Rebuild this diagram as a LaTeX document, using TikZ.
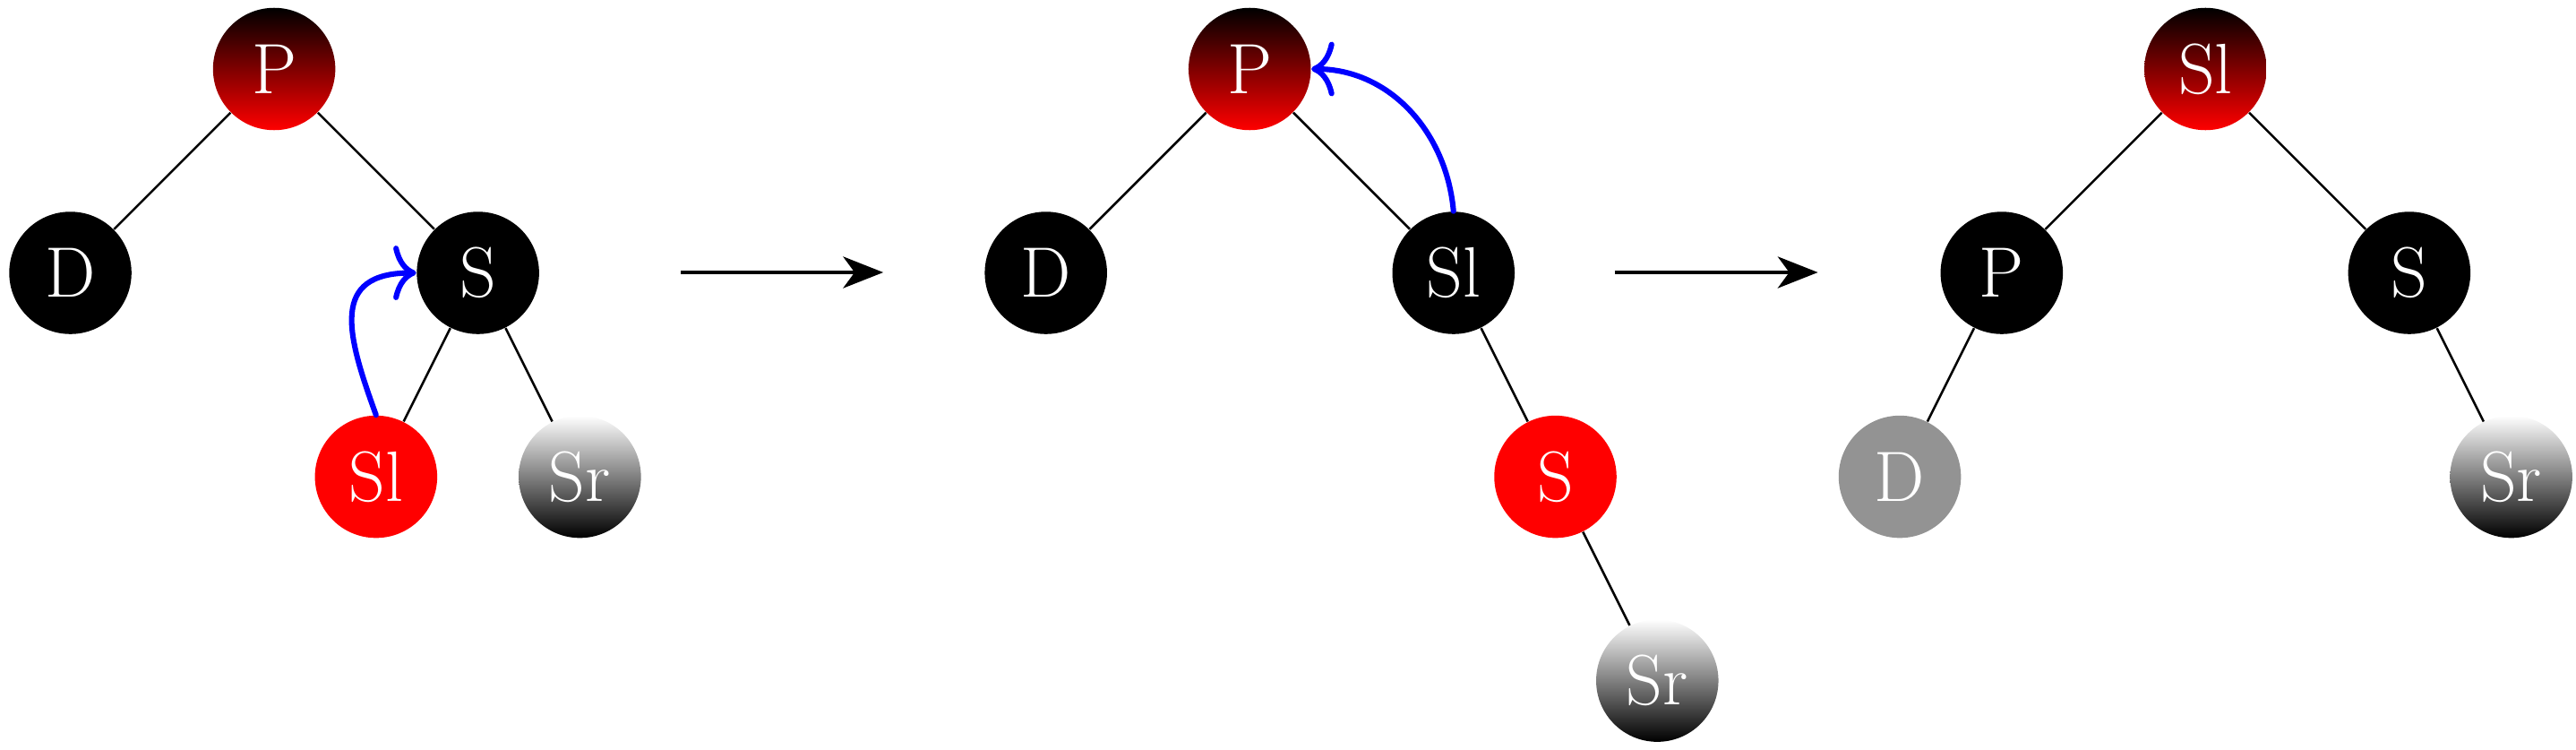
\documentclass[tikz,border=0pt]{standalone}
\usepackage{tikz}
\usetikzlibrary{arrows.meta,positioning,calc}

\begin{document}
\begin{tikzpicture}[
    rbnode/.style={circle, minimum size=1.5cm, inner sep=0pt, text=white, font=\Huge},
    blacknode/.style={rbnode, fill=black},
    rednode/.style={rbnode, fill=red},
    shadednode/.style={rbnode, top color=black, bottom color=red},
    fadednode/.style={rbnode, top color=white, bottom color=black},
    greynode/.style={rbnode, fill=gray!85},
    edge/.style={thick},
    move/.style={-{Computer Modern Rightarrow[length=8pt,width=19pt]}, blue, line width=1.9pt, line cap=round},
    step arrow/.style={-{Stealth[length=14pt,width=11pt,inset=4pt]}, very thick}
  ]
    \useasboundingbox (0,0) rectangle (31.6,-9.187);

    % Before rotation
    \node[shadednode] (P1) at (3.363,-0.846) {P};
    \node[blacknode] (D1) at (0.863,-3.346) {D};
    \node[blacknode] (S1) at (5.863,-3.346) {S};
    \node[rednode] (Sl1) at (4.613,-5.846) {Sl};
    \node[fadednode] (Sr1) at (7.113,-5.846) {Sr};
    \draw[edge] (P1) -- (D1);
    \draw[edge] (P1) -- (S1);
    \draw[edge] (S1) -- (Sl1);
    \draw[edge] (S1) -- (Sr1);
    \draw[move] (Sl1.north) to[out=110, in=180, looseness=1.5] (S1.west);

    % First step
    \coordinate (a1) at (8.352,-3.34);
    \coordinate (b1) at (10.835,-3.34);
    \draw[step arrow] (a1) -- (b1);

    % After right rotation at S
    \node[shadednode] (P2) at (15.33,-0.846) {P};
    \node[blacknode] (D2) at (12.83,-3.346) {D};
    \node[blacknode] (Sl2) at (17.83,-3.346) {Sl};
    \node[rednode] (S2) at (19.08,-5.846) {S};
    \node[fadednode] (Sr2) at (20.33,-8.346) {Sr};
    \draw[edge] (P2) -- (D2);
    \draw[edge] (P2) -- (Sl2);
    \draw[edge] (Sl2) -- (S2);
    \draw[edge] (S2) -- (Sr2);
    \draw[move] (Sl2.north) to[out=95, in=0] (P2.east);

    % Second step
    \coordinate (a2) at (19.81,-3.34);
    \coordinate (b2) at (22.30,-3.34);
    \draw[step arrow] (a2) -- (b2);

    % After left rotation at P
    \node[shadednode] (Sl3) at (27.055,-0.846) {Sl};
    \node[blacknode] (P3) at (24.555,-3.346) {P};
    \node[blacknode] (S3) at (29.555,-3.346) {S};
    \node[greynode] (D3) at (23.305,-5.846) {D};
    \node[fadednode] (Sr3) at (30.805,-5.846) {Sr};
    \draw[edge] (Sl3) -- (P3);
    \draw[edge] (Sl3) -- (S3);
    \draw[edge] (P3) -- (D3);
    \draw[edge] (S3) -- (Sr3);
\end{tikzpicture}
\end{document}
